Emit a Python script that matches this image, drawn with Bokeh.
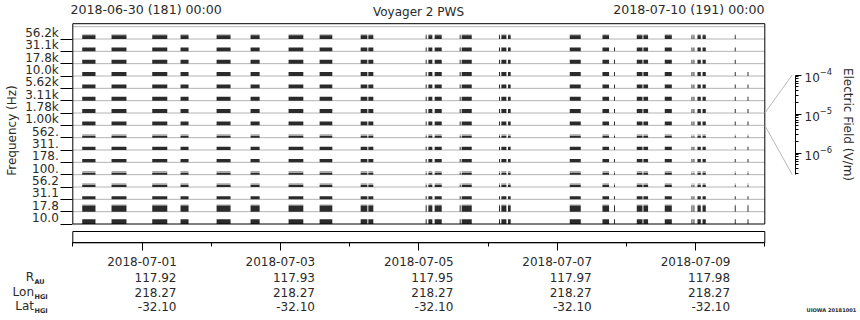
import numpy as np
import pandas as pd
from bokeh.plotting import figure
from bokeh.models import (Range1d, LinearAxis, LogAxis, DatetimeAxis, FixedTicker,
                          DatetimeTickFormatter, ColumnDataSource, Label, LogScale,
                          LogTickFormatter)
from bokeh.core.properties import value
from bokeh.embed import file_html
from bokeh.resources import INLINE

# ---------------- data ----------------
# channels, bottom to top
channel_labels = ["10.0", "17.8", "31.1", "56.2", "100.", "178.", "311.", "562.",
                  "1.00k", "1.78k", "3.11k", "5.62k", "10.0k", "17.8k", "31.1k", "56.2k"]
# relative amplitude (fraction of a channel band) of the dark trace and its faint fringe
amp_dark = [0.38, 0.50, 0.26, 0.16, 0.14, 0.28, 0.26, 0.14,
            0.32, 0.32, 0.32, 0.32, 0.32, 0.32, 0.32, 0.30]
amp_fringe = [0.0, 0.08, 0.0, 0.14, 0.16, 0.0, 0.0, 0.14,
              0.0, 0.0, 0.0, 0.0, 0.0, 0.0, 0.0, 0.08]

# data segments (start, end, highest channel present)
seg_start = ["2018-06-30 03:16", "2018-06-30 13:26", "2018-07-01 03:33", "2018-07-01 13:22",
             "2018-07-02 01:52", "2018-07-02 13:39", "2018-07-03 02:50", "2018-07-03 13:36",
             "2018-07-04 03:50", "2018-07-04 06:30", "2018-07-05 02:23", "2018-07-05 03:19",
             "2018-07-05 05:30", "2018-07-05 14:11", "2018-07-05 14:53", "2018-07-06 03:49",
             "2018-07-06 04:38", "2018-07-06 06:56", "2018-07-07 04:21", "2018-07-07 15:42",
             "2018-07-07 19:42", "2018-07-08 03:36", "2018-07-08 05:54", "2018-07-08 13:18",
             "2018-07-08 22:34", "2018-07-08 23:15", "2018-07-09 00:39", "2018-07-09 02:24",
             "2018-07-09 13:35", "2018-07-09 18:00"]
seg_end = ["2018-06-30 07:52", "2018-06-30 18:37", "2018-07-01 08:46", "2018-07-01 16:09",
           "2018-07-02 06:43", "2018-07-02 16:48", "2018-07-03 07:57", "2018-07-03 18:00",
           "2018-07-04 06:09", "2018-07-04 08:14", "2018-07-05 02:44", "2018-07-05 04:42",
           "2018-07-05 07:57", "2018-07-05 14:31", "2018-07-05 18:22", "2018-07-06 04:10",
           "2018-07-06 06:23", "2018-07-06 07:52", "2018-07-07 08:10", "2018-07-07 17:59",
           "2018-07-07 20:02", "2018-07-08 05:34", "2018-07-08 07:31", "2018-07-08 15:45",
           "2018-07-08 22:54", "2018-07-08 23:35", "2018-07-09 01:48", "2018-07-09 03:32",
           "2018-07-09 13:55", "2018-07-09 18:20"]
seg_top = [15, 15, 15, 15, 15, 15, 15, 15, 15, 15, 15, 15, 15, 15, 15, 15,
           15, 15, 15, 15, 14, 15, 15, 15, 15, 15, 15, 15, 15, 12]

major_dates = ["2018-07-01", "2018-07-03", "2018-07-05", "2018-07-07", "2018-07-09"]
minor_dates = ["2018-06-30", "2018-07-02", "2018-07-04", "2018-07-06", "2018-07-08", "2018-07-10"]
r_au = ["117.92", "117.93", "117.95", "117.97", "117.98"]
lon_hgi = ["218.27", "218.27", "218.27", "218.27", "218.27"]
lat_hgi = ["-32.10", "-32.10", "-32.10", "-32.10", "-32.10"]

ef_ticks = [1e-4, 1e-5, 1e-6]
ef_minor = [9e-5, 8e-5, 7e-5, 6e-5, 5e-5, 4e-5, 3e-5, 2e-5,
            9e-6, 8e-6, 7e-6, 6e-6, 5e-6, 4e-6, 3e-6, 2e-6,
            9e-7, 8e-7, 7e-7, 6e-7, 5e-7, 4e-7, 3e-7]
ef_min, ef_max = 2.8e-7, 1e-4
t_begin, t_end = "2018-06-30 00:00", "2018-07-10 00:00"

# ---------------- layout geometry ----------------
W, H = 860, 320
X0_PX = 72.3      # pixel of t_begin
PX_DAY = 69.2
Y0_PX = 223.5     # pixel of channel 0 baseline
UNIT = 12.333     # pixels per channel
EF_TOP_PX = 74.5
EF_DEC_PX = 39.0
DAY = 86400000.0
FONT = "DejaVu Sans"
TXT = "#2a2a2a"


def ms(s):
    return pd.Timestamp(s).value / 1e6


T0, T1 = ms(t_begin), ms(t_end)


def xpx(px):
    return T0 + (px - X0_PX) / PX_DAY * DAY


def ypx(py):
    return (Y0_PX - py) / UNIT


def efpx(py):
    return 10 ** (-4 - (py - EF_TOP_PX) / EF_DEC_PX)


def ef_to_y(v):
    py = EF_TOP_PX - (np.log10(v) + 4) * EF_DEC_PX
    return ypx(py)


p = figure(width=W, height=H, x_range=Range1d(xpx(0), xpx(W)), y_range=Range1d(ypx(H), ypx(0)),
           output_backend="svg", toolbar_location=None, x_axis_location=None,
           y_axis_location=None, min_border=0, outline_line_color=None)
p.min_border_left = p.min_border_right = p.min_border_top = p.min_border_bottom = 0
p.background_fill_color = "white"
p.border_fill_color = "white"
p.grid.visible = False
p.extra_y_ranges = {"ef": Range1d(start=efpx(H), end=efpx(0))}
p.extra_y_scales = {"ef": LogScale()}

# baselines
n_ch = len(channel_labels)
base = list(range(1, n_ch + 1))
p.segment(x0=[T0] * n_ch, x1=[T1] * n_ch, y0=base, y1=base, line_color="#b4b4b4", line_width=1)

# bars
d = dict(left=[], right=[], bottom=[], top=[])
f = dict(left=[], right=[], bottom=[], top=[])
for s, e, top in zip(seg_start, seg_end, seg_top):
    for k in range(top + 1):
        d["left"].append(ms(s)); d["right"].append(ms(e))
        d["bottom"].append(k); d["top"].append(k + amp_dark[k])
        if amp_fringe[k] > 0:
            f["left"].append(ms(s)); f["right"].append(ms(e))
            f["bottom"].append(k + amp_dark[k]); f["top"].append(k + amp_dark[k] + amp_fringe[k])
p.quad(source=ColumnDataSource(f), left="left", right="right", bottom="bottom", top="top",
       fill_color="#a8a8a8", line_color=None)
p.quad(source=ColumnDataSource(d), left="left", right="right", bottom="bottom", top="top",
       fill_color="#2b2b2b", line_color=None)

# frame and strip box
p.quad(left=[T0], right=[T1], bottom=[0], top=[ypx(23.2)], fill_color=None, line_color="black")
p.quad(left=[T0], right=[T1], bottom=[ypx(242.3)], top=[ypx(231)], fill_color=None, line_color="black")

# fan lines to the amplitude key
p.segment(x0=[T1, T1], y0=[9, 8], x1=[xpx(791.7)] * 2, y1=[ef_to_y(ef_max), ef_to_y(ef_min)],
          line_color="#b8b8b8", line_width=1)

# left axes: ticks and labels
tick_axis = LinearAxis(fixed_location=T0, ticker=FixedTicker(ticks=list(range(n_ch))),
                       major_tick_out=12, major_tick_in=0, axis_line_color=None,
                       major_label_overrides={k: "" for k in range(n_ch)},
                       major_tick_line_color="black", bounds=(0, 16.2))
p.add_layout(tick_axis, "left")
lab_pos = [k + 0.5 for k in range(n_ch)]
lab_axis = LinearAxis(fixed_location=T0, ticker=FixedTicker(ticks=lab_pos),
                      major_tick_out=0, major_tick_in=0, axis_line_color=None,
                      major_tick_line_color=None, major_label_standoff=14,
                      major_label_overrides={pos: lab for pos, lab in zip(lab_pos, channel_labels)},
                      major_label_text_font=FONT, major_label_text_font_size="12px",
                      major_label_text_color=TXT, bounds=(0, 16.2))
p.add_layout(lab_axis, "left")

# bottom date axis
date_axis = DatetimeAxis(fixed_location=ypx(242.3),
                         ticker=FixedTicker(ticks=[ms(x) for x in major_dates],
                                            minor_ticks=[ms(x) for x in minor_dates]),
                         formatter=DatetimeTickFormatter(days="%Y-%m-%d", months="%Y-%m-%d",
                                                         hours="%Y-%m-%d", hourmin="%Y-%m-%d",
                                                         years="%Y-%m-%d"),
                         major_tick_out=8, major_tick_in=0, minor_tick_out=4, minor_tick_in=0,
                         axis_line_color="black", major_tick_line_color="black",
                         minor_tick_line_color="black", major_label_standoff=6,
                         major_label_text_font=FONT, major_label_text_font_size="12px",
                         major_label_text_color=TXT, bounds=(T0, T1))
p.add_layout(date_axis, "below")

# ephemeris rows
xm = [ms(x) for x in major_dates]
ya = [ypx(242.3)] * len(xm)
for vals, off in ((r_au, 34.5), (lon_hgi, 49.5), (lat_hgi, 63.5)):
    p.text(x=xm, y=ya, text=vals, x_offset=34.5, y_offset=off, text_align="right",
           text_baseline="middle", text_font=value(FONT), text_font_size="12px", text_color=TXT)

# amplitude key axis
ef_axis = LogAxis(y_range_name="ef", fixed_location=xpx(795),
                  ticker=FixedTicker(ticks=ef_ticks, minor_ticks=ef_minor),
                  formatter=LogTickFormatter(), bounds=(ef_min, ef_max),
                  major_tick_out=6, major_tick_in=0, minor_tick_out=3, minor_tick_in=0,
                  axis_line_color="black", major_tick_line_color="black",
                  minor_tick_line_color="black", major_label_standoff=3,
                  major_label_text_font=FONT, major_label_text_font_size="12px",
                  major_label_text_color=TXT)
p.add_layout(ef_axis, "right")


def lab(text, x, y, size="12px", align="left", angle=0.0, style="normal", base="middle"):
    p.add_layout(Label(x=x, y=H - y, x_units="screen", y_units="screen", text=text,
                       text_font=FONT, text_font_size=size, text_align=align,
                       text_baseline=base, angle=angle, text_font_style=style,
                       text_color=TXT))


lab("Voyager 2 PWS", 418, 11.5, align="center")
lab("2018-06-30 (181) 00:00", 70, 8.5, size="12.6px")
lab("2018-07-10 (191) 00:00", 764, 8.5, size="12.6px", align="right")
lab("Frequency (Hz)", 11, 130, align="center", angle=np.pi / 2)
lab("Electric Field (V/m)", 847, 124, align="center", angle=-np.pi / 2)
for name, sub, y in (("R", "AU", 276.7), ("Lon", "HGI", 291.7), ("Lat", "HGI", 305.7)):
    lab(name, 33.5, y, align="right")
    lab(sub, 34, y + 5, size="6.5px", style="bold")
lab("UIOWA 20181001", 806, 309.5, size="5.1px", style="bold")

open("out.html", "w").write(file_html(p, INLINE))
